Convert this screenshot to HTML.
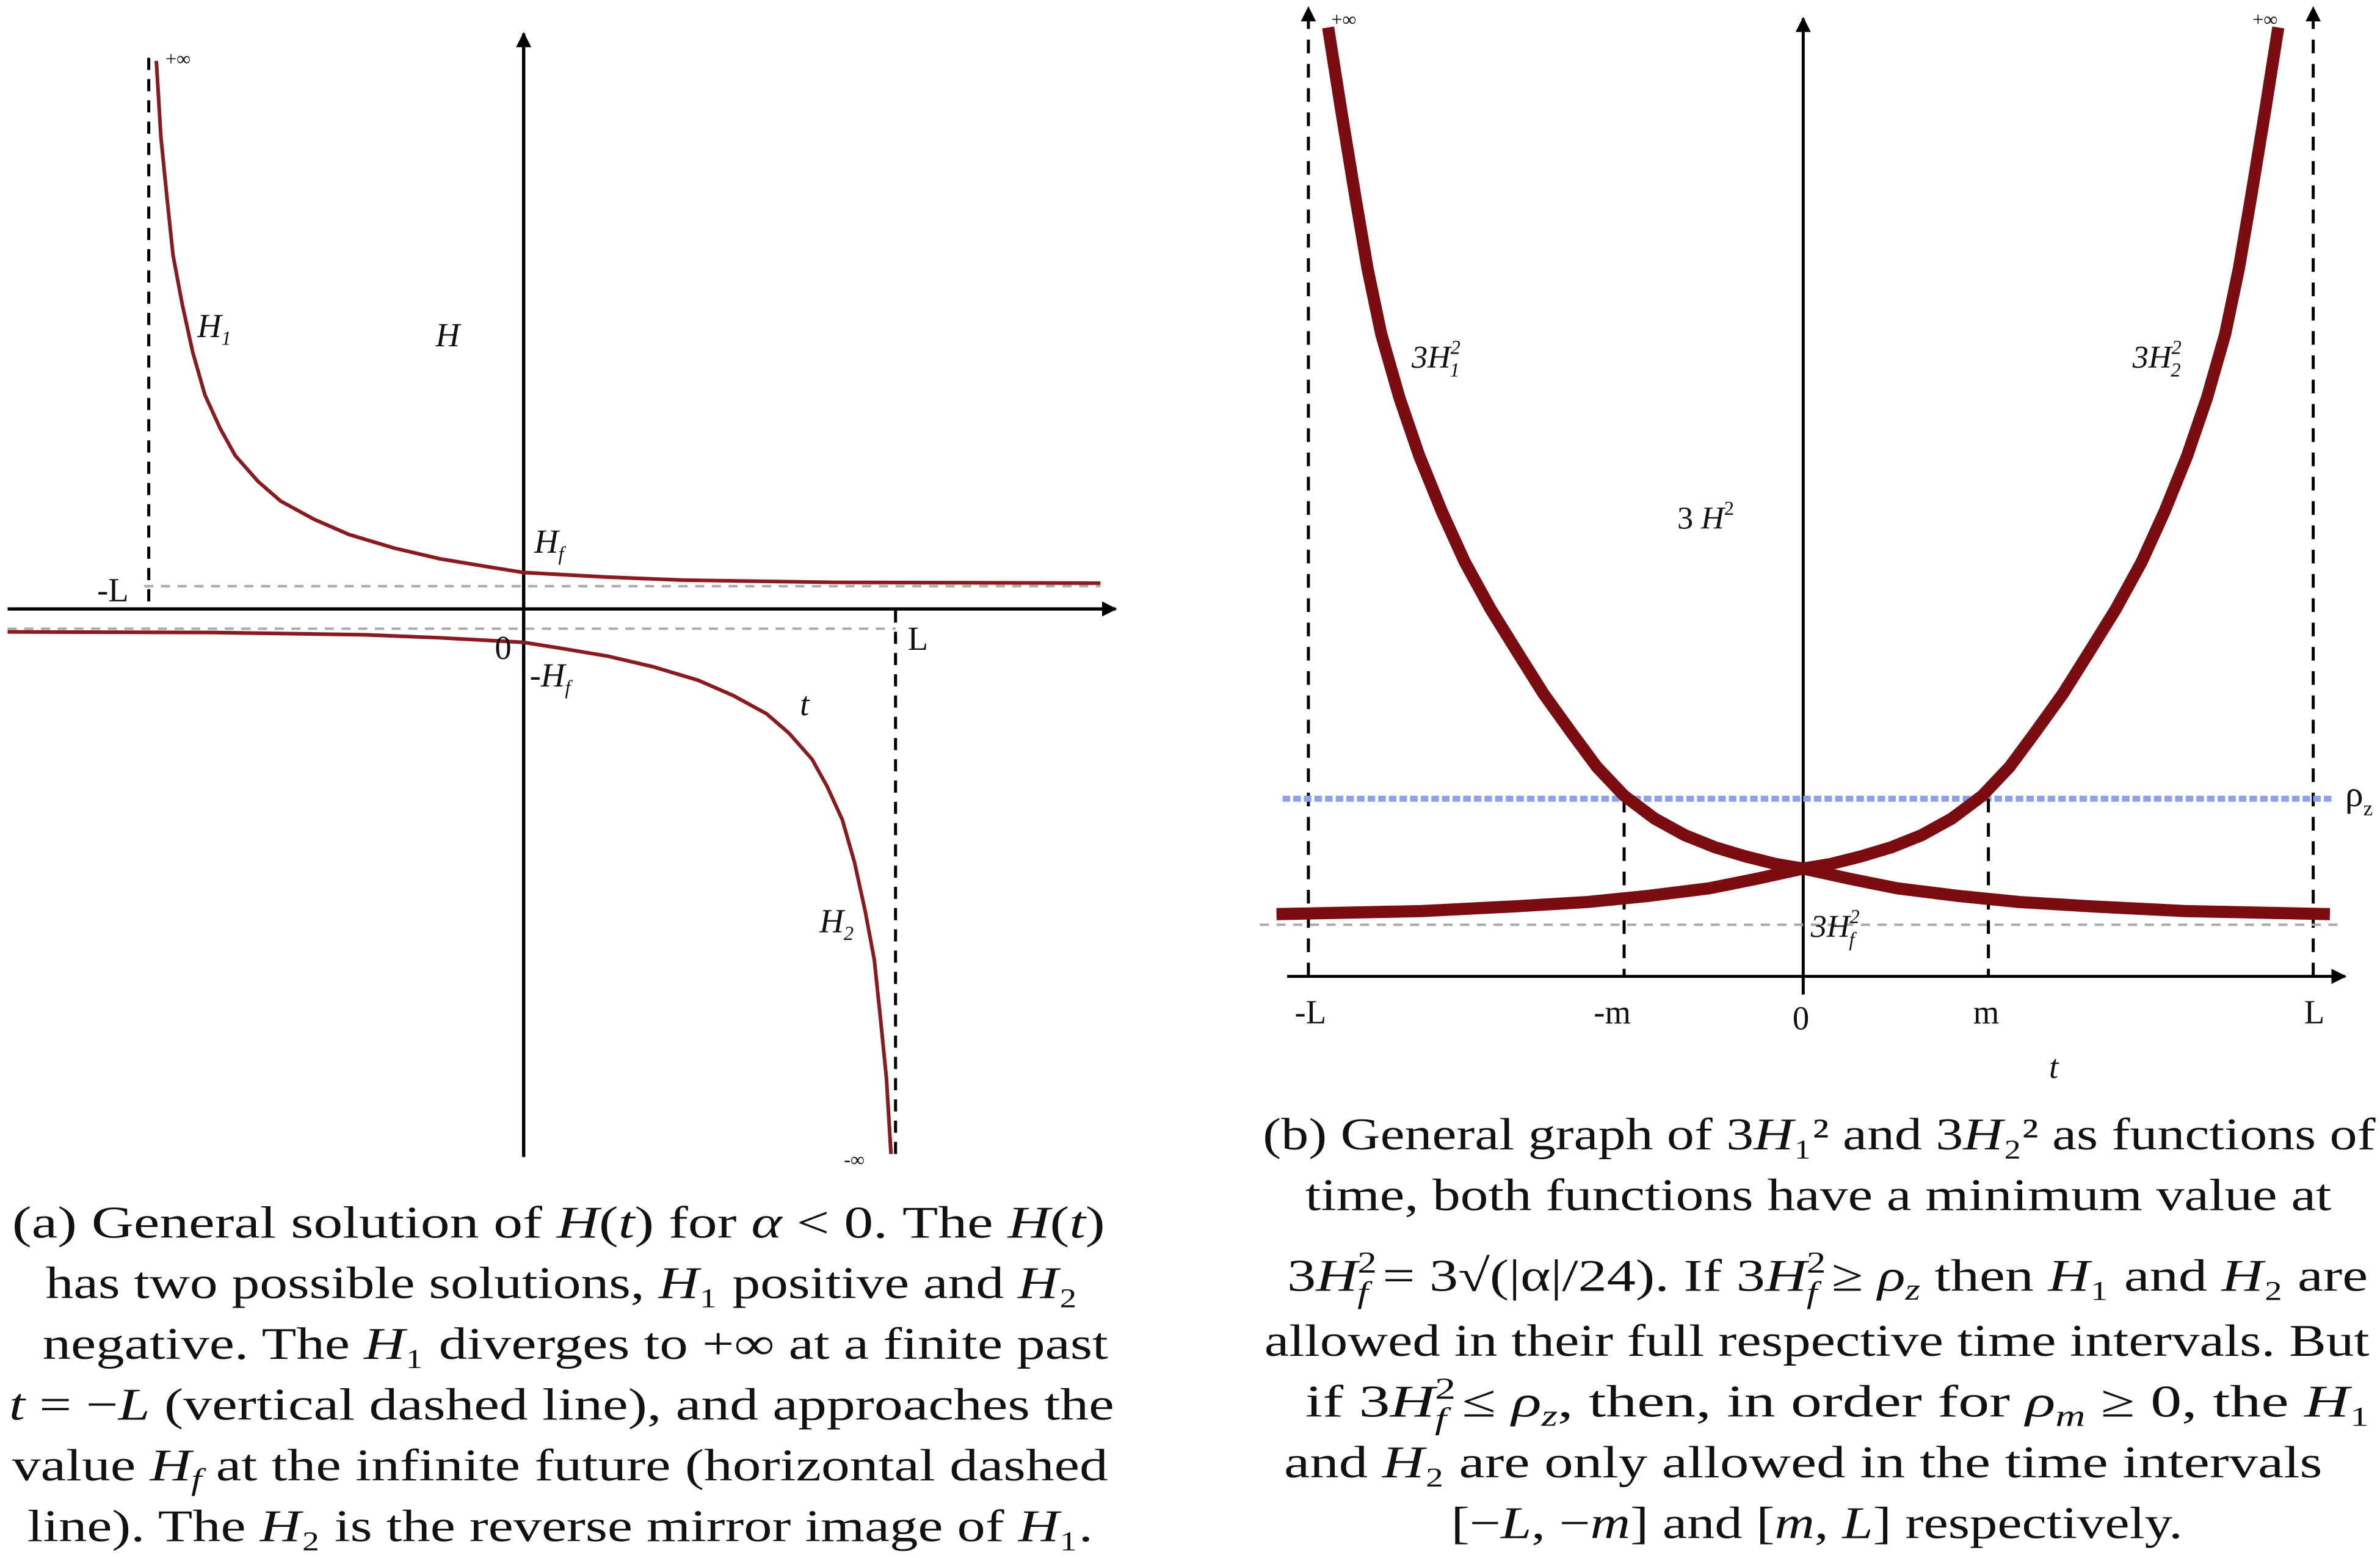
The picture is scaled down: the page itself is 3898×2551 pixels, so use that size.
<!DOCTYPE html>
<html><head><meta charset="utf-8"><style>
html,body{margin:0;padding:0;background:#fff;}
svg{display:block;}
text{font-family:"Liberation Serif",serif;fill:#111;}
.i{font-style:italic;}
</style></head><body>
<svg width="3898" height="2551" viewBox="0 0 1568 1026" xmlns="http://www.w3.org/2000/svg">
<defs>
<clipPath id="cl"><rect x="5" y="0" width="740" height="770"/></clipPath>
<marker id="ar" markerWidth="10" markerHeight="10" refX="9" refY="5" orient="auto" markerUnits="userSpaceOnUse"><path d="M0,0 L10,5 L0,10 Z" fill="#000"/></marker>
</defs>
<rect width="1568" height="1026" fill="#fff"/>
<!-- LEFT PANEL -->
<line x1="345" y1="762" x2="345" y2="22" stroke="#000" stroke-width="2.2" marker-end="url(#ar)"/>
<line x1="5" y1="401" x2="735" y2="401" stroke="#000" stroke-width="2.2" marker-end="url(#ar)"/>
<line x1="98" y1="38" x2="98" y2="400" stroke="#000" stroke-width="2" stroke-dasharray="8,6"/>
<line x1="590" y1="402" x2="590" y2="765" stroke="#000" stroke-width="2" stroke-dasharray="8,6"/>
<line x1="95" y1="386" x2="725" y2="386" stroke="#aaa" stroke-width="1.6" stroke-dasharray="6,5"/>
<line x1="5" y1="414" x2="590" y2="414" stroke="#aaa" stroke-width="1.6" stroke-dasharray="6,5"/>
<g clip-path="url(#cl)" fill="none" stroke="#8b1a1f" stroke-width="2.4" stroke-linejoin="round">
<polyline points="103,40 106,90 110,130 114,168 120,200 127,232 135,260 145,282 155,300 170,317 185,330 207,342 230,352 260,361 290,368 320,373 345,377 400,380 450,382 550,383.5 725,384"/>
<polyline transform="rotate(180 345 400)" points="103,40 106,90 110,130 114,168 120,200 127,232 135,260 145,282 155,300 170,317 185,330 207,342 230,352 260,361 290,368 320,373 345,377 400,380 450,382 550,383.5 725,384"/>
</g>
<text x="109" y="43" font-size="13">+∞</text>
<text x="130" y="222" font-size="22" class="i">H<tspan font-size="13" dy="5">1</tspan></text>
<text x="287" y="228" font-size="22" class="i">H</text>
<text x="352" y="364" font-size="22" class="i">H<tspan font-size="13" dy="5">f</tspan></text>
<text x="64" y="396" font-size="22">-L</text>
<text x="326" y="434" font-size="22">0</text>
<text x="349" y="452" font-size="22" class="i">-H<tspan font-size="13" dy="5">f</tspan></text>
<text x="598" y="428" font-size="22">L</text>
<text x="527" y="471" font-size="22" class="i">t</text>
<text x="540" y="614" font-size="22" class="i">H<tspan font-size="13" dy="5">2</tspan></text>
<text x="556" y="768" font-size="13">-∞</text>
<!-- caption a -->
<g font-size="30">
<text x="8" y="815" textLength="720" lengthAdjust="spacingAndGlyphs">(a) General solution of <tspan class="i">H</tspan>(<tspan class="i">t</tspan>) for <tspan class="i">α</tspan> &lt; 0. The <tspan class="i">H</tspan>(<tspan class="i">t</tspan>)</text>
<text x="30" y="855" textLength="680" lengthAdjust="spacingAndGlyphs">has two possible solutions, <tspan class="i">H</tspan>₁ positive and <tspan class="i">H</tspan>₂</text>
<text x="28" y="895" textLength="702" lengthAdjust="spacingAndGlyphs">negative. The <tspan class="i">H</tspan>₁ diverges to +∞ at a finite past</text>
<text x="6" y="935" textLength="728" lengthAdjust="spacingAndGlyphs"><tspan class="i">t</tspan> = −<tspan class="i">L</tspan> (vertical dashed line), and approaches the</text>
<text x="8" y="975" textLength="722" lengthAdjust="spacingAndGlyphs">value <tspan class="i">H<tspan font-size="20" dy="6">f</tspan></tspan><tspan dy="-6"> at the infinite future (horizontal dashed</tspan></text>
<text x="18" y="1015" textLength="702" lengthAdjust="spacingAndGlyphs">line). The <tspan class="i">H</tspan>₂ is the reverse mirror image of <tspan class="i">H</tspan>₁.</text>
</g>
<!-- RIGHT PANEL -->
<line x1="1188" y1="655" x2="1188" y2="12" stroke="#000" stroke-width="2" marker-end="url(#ar)"/>
<line x1="848" y1="643" x2="1545" y2="643" stroke="#000" stroke-width="2" marker-end="url(#ar)"/>
<line x1="862" y1="643" x2="862" y2="5" stroke="#000" stroke-width="2" stroke-dasharray="9,7" marker-end="url(#ar)"/>
<line x1="1524" y1="643" x2="1524" y2="5" stroke="#000" stroke-width="2" stroke-dasharray="9,7" marker-end="url(#ar)"/>
<line x1="845" y1="526" x2="1537" y2="526" stroke="#8fa0f0" stroke-width="4" stroke-dasharray="5,2"/>
<line x1="830" y1="609" x2="1545" y2="609" stroke="#aaa" stroke-width="1.6" stroke-dasharray="6,5"/>
<line x1="1070" y1="526" x2="1070" y2="643" stroke="#000" stroke-width="2" stroke-dasharray="9,7"/>
<line x1="1310" y1="526" x2="1310" y2="643" stroke="#000" stroke-width="2" stroke-dasharray="9,7"/>
<g fill="none" stroke="#7a0c12" stroke-width="8" stroke-linejoin="round">
<polyline points="875,18 884,75 893,130 901,177 910,220 922,262 935,300 950,337 965,370 982,401 1000,430 1017,457 1035,482 1052,505 1070,524 1090,539 1110,550 1130,558 1150,564 1170,569 1188,572 1220,579 1250,585 1290,590 1330,594 1380,597 1440,600 1535,602"/>
<polyline transform="translate(2376 0) scale(-1 1)" points="875,18 884,75 893,130 901,177 910,220 922,262 935,300 950,337 965,370 982,401 1000,430 1017,457 1035,482 1052,505 1070,524 1090,539 1110,550 1130,558 1150,564 1170,569 1188,572 1220,579 1250,585 1290,590 1330,594 1380,597 1440,600 1535,602"/>
</g>
<text x="877" y="17" font-size="13">+∞</text>
<text x="1484" y="17" font-size="13">+∞</text>
<text x="930" y="242" font-size="21" class="i">3H<tspan font-size="13" dy="-9">2</tspan><tspan font-size="13" dx="-7" dy="15">1</tspan></text>
<text x="1405" y="242" font-size="21" class="i">3H<tspan font-size="13" dy="-9">2</tspan><tspan font-size="13" dx="-7" dy="15">2</tspan></text>
<text x="1105" y="348" font-size="21">3 <tspan class="i">H</tspan><tspan font-size="13" dy="-9">2</tspan></text>
<text x="1193" y="617" font-size="21" class="i">3H<tspan font-size="13" dy="-9">2</tspan><tspan font-size="13" dx="-7" dy="15">f</tspan></text>
<text x="1545" y="531" font-size="24">ρ<tspan font-size="14" dy="6">z</tspan></text>
<text x="853" y="674" font-size="22">-L</text>
<text x="1050" y="674" font-size="22">-m</text>
<text x="1181" y="678" font-size="22">0</text>
<text x="1300" y="674" font-size="22">m</text>
<text x="1518" y="674" font-size="22">L</text>
<text x="1350" y="710" font-size="22" class="i">t</text>
<!-- caption b -->
<g font-size="30">
<text x="832" y="757" textLength="733" lengthAdjust="spacingAndGlyphs">(b) General graph of 3<tspan class="i">H</tspan>₁² and 3<tspan class="i">H</tspan>₂² as functions of</text>
<text x="860" y="797" textLength="676" lengthAdjust="spacingAndGlyphs">time, both functions have a minimum value at</text>
<text x="848" y="850" textLength="712" lengthAdjust="spacingAndGlyphs">3<tspan class="i">H</tspan><tspan font-size="20" dy="-12">2</tspan><tspan font-size="20" class="i" dx="-10" dy="20">f</tspan><tspan dy="-8"> = 3√(|α|/24). If 3</tspan><tspan class="i">H</tspan><tspan font-size="20" dy="-12">2</tspan><tspan font-size="20" class="i" dx="-10" dy="20">f</tspan><tspan dy="-8"> ≥ </tspan><tspan class="i">ρ</tspan><tspan font-size="20" class="i" dy="6">z</tspan><tspan dy="-6"> then </tspan><tspan class="i">H</tspan>₁ and <tspan class="i">H</tspan>₂ are</text>
<text x="833" y="893" textLength="728" lengthAdjust="spacingAndGlyphs">allowed in their full respective time intervals. But</text>
<text x="860" y="933" textLength="702" lengthAdjust="spacingAndGlyphs">if 3<tspan class="i">H</tspan><tspan font-size="20" dy="-12">2</tspan><tspan font-size="20" class="i" dx="-10" dy="20">f</tspan><tspan dy="-8"> ≤ </tspan><tspan class="i">ρ</tspan><tspan font-size="20" class="i" dy="6">z</tspan><tspan dy="-6">, then, in order for </tspan><tspan class="i">ρ</tspan><tspan font-size="20" class="i" dy="6">m</tspan><tspan dy="-6"> ≥ 0, the </tspan><tspan class="i">H</tspan>₁</text>
<text x="846" y="973" textLength="684" lengthAdjust="spacingAndGlyphs">and <tspan class="i">H</tspan>₂ are only allowed in the time intervals</text>
<text x="956" y="1013" textLength="482" lengthAdjust="spacingAndGlyphs">[−<tspan class="i">L</tspan>, −<tspan class="i">m</tspan>] and [<tspan class="i">m</tspan>, <tspan class="i">L</tspan>] respectively.</text>
</g>
</svg>
</body></html>
